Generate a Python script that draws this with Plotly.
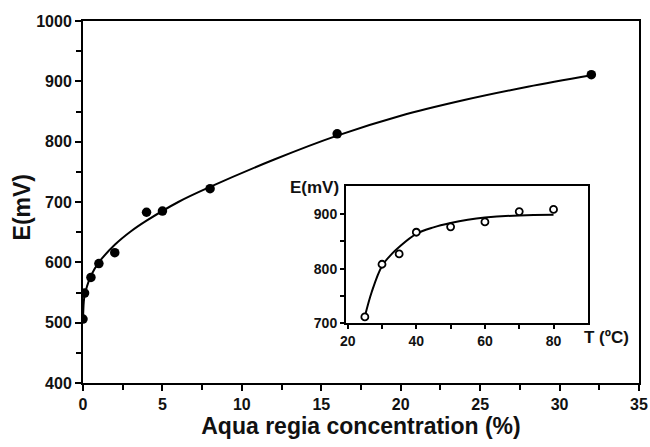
import plotly.graph_objects as go

# Main data: aqua regia concentration (%) vs E (mV)
conc = [0, 0.1, 0.5, 1, 2, 4, 5, 8, 16, 32]
e_main = [506, 549, 575, 598, 616, 683, 685, 722, 813, 911]
# Fitted curve
curve_x = [0, 0.05, 0.1, 0.25, 0.5, 1, 2, 3, 4, 6, 8, 12, 16, 20, 24, 28, 32]
curve_y = [505, 535, 545, 560, 578, 600, 629, 651, 669, 700, 725, 770, 810, 843, 869, 891, 910]
main_xticks = [0, 5, 10, 15, 20, 25, 30, 35]
main_yticks = [400, 500, 600, 700, 800, 900, 1000]

# Inset data: temperature (ºC) vs E (mV)
temp = [25, 30, 35, 40, 50, 60, 70, 80]
e_inset = [711, 808, 827, 867, 877, 886, 905, 909]
icurve_x = [25, 27, 30, 33, 35, 40, 45, 50, 55, 60, 70, 80]
icurve_y = [712, 757, 805, 828, 840, 864, 876, 884, 890, 894, 898, 899]
inset_xticks = [20, 40, 60, 80]
inset_yticks = [700, 800, 900]

FONT = "Liberation Sans"
TXT = "#111111"


def bold(vals):
    return ["<b>%s</b>" % v for v in vals]


fig = go.Figure()
fig.add_trace(go.Scatter(x=curve_x, y=curve_y, mode="lines", line=dict(color="black", width=2, shape="spline"),
                         showlegend=False, hoverinfo="skip"))
fig.add_trace(go.Scatter(x=conc, y=e_main, mode="markers", marker=dict(color="black", size=9.5),
                         showlegend=False))
fig.add_trace(go.Scatter(x=icurve_x, y=icurve_y, mode="lines", line=dict(color="black", width=2, shape="spline"),
                         xaxis="x2", yaxis="y2", showlegend=False, hoverinfo="skip"))
fig.add_trace(go.Scatter(x=temp, y=e_inset, mode="markers",
                         marker=dict(color="white", size=7, line=dict(color="black", width=1.8)),
                         xaxis="x2", yaxis="y2", showlegend=False))

base = dict(showgrid=False, zeroline=False, showline=True, linecolor="black", mirror=True,
            ticks="outside", tickcolor="black", linewidth=2, automargin=False)

fig.update_layout(
    width=650, height=447,
    margin=dict(l=83, r=11, t=21, b=64),
    paper_bgcolor="white", plot_bgcolor="white",
    xaxis=dict(range=[0, 35], tickmode="array", tickvals=main_xticks, ticktext=bold(main_xticks),
               ticklen=6, tickwidth=2,
               minor=dict(ticks="outside", dtick=2.5, ticklen=5, tickcolor="black", tickwidth=2),
               tickfont=dict(family=FONT, size=16, color=TXT),
               title=dict(text="<b>Aqua regia concentration (%)</b>", standoff=6,
                          font=dict(family=FONT, size=23, color=TXT)),
               **base),
    yaxis=dict(range=[400, 1000], tickmode="array", tickvals=main_yticks, ticktext=bold(main_yticks),
               ticklen=6, tickwidth=2,
               minor=dict(ticks="outside", dtick=50, ticklen=5, tickcolor="black", tickwidth=2),
               tickfont=dict(family=FONT, size=16, color=TXT),
               **base),
    xaxis2=dict(domain=[0.473, 0.908], anchor="y2", range=[19.5, 90], tickmode="array",
                tickvals=inset_xticks, ticktext=bold(inset_xticks), ticklen=4, tickwidth=1.5,
                minor=dict(ticks="outside", tickvals=[30, 50, 70], ticklen=4, tickcolor="black", tickwidth=1.5),
                tickfont=dict(family=FONT, size=14, color=TXT), **base),
    yaxis2=dict(domain=[0.166, 0.544], anchor="x2", range=[700, 952], tickmode="array",
                tickvals=inset_yticks, ticktext=bold(inset_yticks), ticklen=4, tickwidth=1.5,
                minor=dict(ticks="outside", tickvals=[750, 850], ticklen=4, tickcolor="black", tickwidth=1.5),
                tickfont=dict(family=FONT, size=14, color=TXT), **base),
    annotations=[
        dict(text="<b>E(mV)</b>", xref="paper", yref="paper", x=-0.1097, y=0.485, xanchor="center",
             yanchor="middle", textangle=-90, showarrow=False, font=dict(family=FONT, size=23, color=TXT)),
        dict(text="<b>E(mV)</b>", xref="paper", yref="paper", x=0.464, y=0.539, xanchor="right", yanchor="middle",
             showarrow=False, font=dict(family=FONT, size=17, color=TXT)),
        dict(text="<b>T (ºC)</b>", xref="paper", yref="paper", x=0.897, y=0.126, xanchor="left", yanchor="middle",
             showarrow=False, font=dict(family=FONT, size=17, color=TXT)),
    ],
)

fig.write_html("out.html")
